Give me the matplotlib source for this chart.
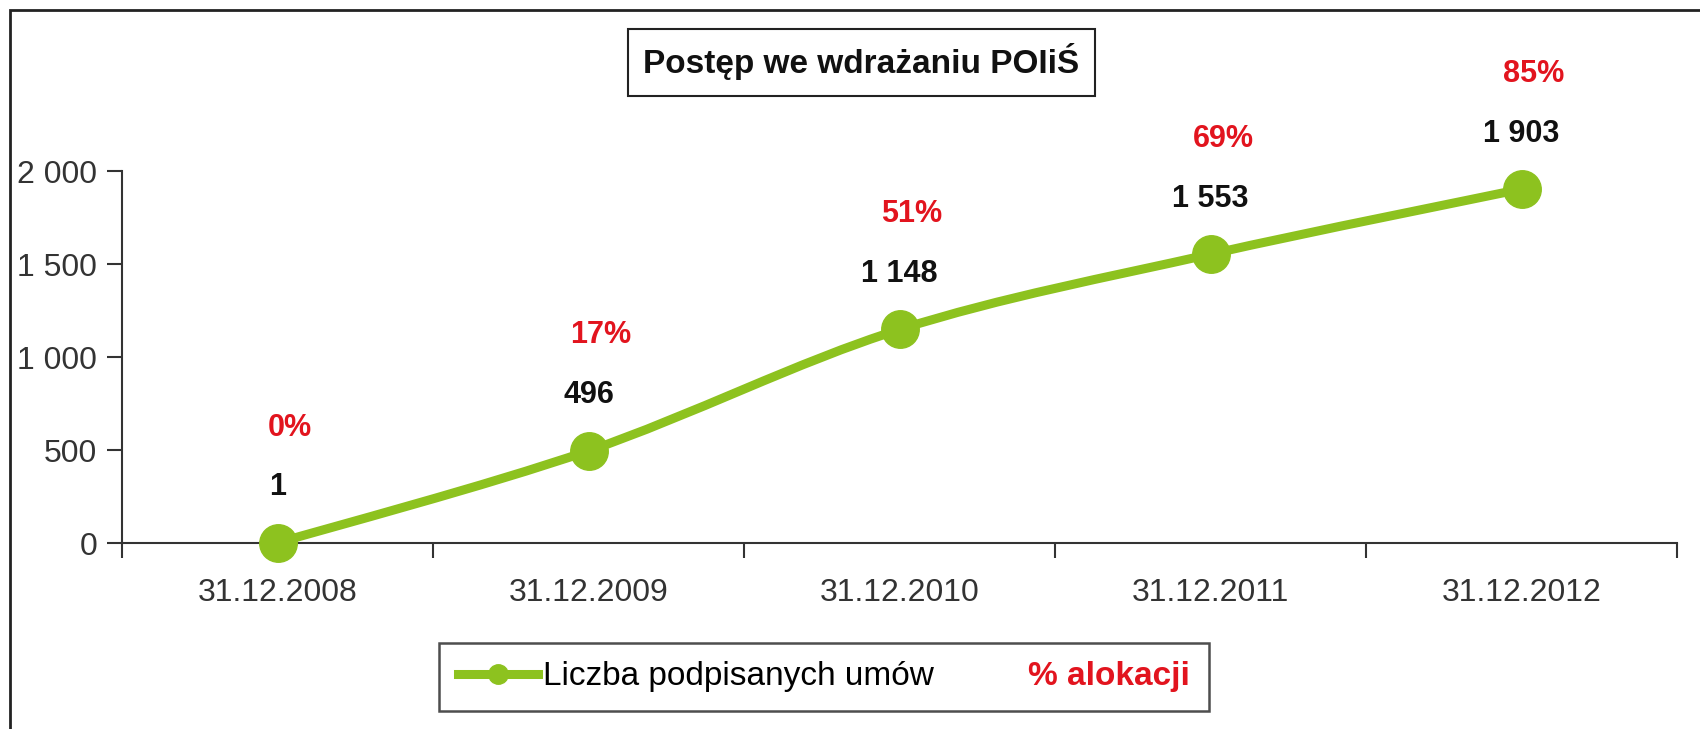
import matplotlib
matplotlib.use("Agg")
import matplotlib.pyplot as plt
from matplotlib.lines import Line2D
from matplotlib.patches import Rectangle, PathPatch
from matplotlib.path import Path

plt.rcParams["font.family"] = ["Liberation Sans", "DejaVu Sans"]

# dane
daty = ["31.12.2008", "31.12.2009", "31.12.2010", "31.12.2011", "31.12.2012"]
umowy = [1, 496, 1148, 1553, 1903]
alokacja = [0, 17, 51, 69, 85]
y_ticks = [0, 500, 1000, 1500, 2000]

ZIELONY = "#8DC21F"
CZERWONY = "#E2141E"
SZARY = "#333333"


def fmt_pl(v):
    return f"{v:,}".replace(",", " ")


fig = plt.figure(figsize=(17, 7.29), dpi=100)
ax = fig.add_axes([0.0718, 0.2551, 0.9147, 0.5103])

x = list(range(len(umowy)))

# wygładzona linia (jak w Excelu) - krzywe Beziera przez punkty danych
pts = list(zip(x, umowy))
verts = [pts[0]]
codes = [Path.MOVETO]
for i in range(len(pts) - 1):
    p0 = pts[i - 1] if i > 0 else pts[i]
    p1, p2 = pts[i], pts[i + 1]
    p3 = pts[i + 2] if i + 2 < len(pts) else pts[i + 1]
    c1 = (p1[0] + (p2[0] - p0[0]) / 6, p1[1] + (p2[1] - p0[1]) / 6)
    c2 = (p2[0] - (p3[0] - p1[0]) / 6, p2[1] - (p3[1] - p1[1]) / 6)
    verts += [c1, c2, p2]
    codes += [Path.CURVE4] * 3
ax.add_patch(PathPatch(Path(verts, codes), fill=False, ec=ZIELONY, lw=6.5,
                       capstyle="round", clip_on=False, zorder=3))
ax.plot(x, umowy, ls="none", marker="o", ms=27, color=ZIELONY,
        clip_on=False, zorder=4)

# etykiety danych
for xi, v, p in zip(x, umowy, alokacja):
    ax.annotate(fmt_pl(v), (xi, v), xytext=(0, 40), textcoords="offset points",
                ha="center", va="center", fontsize=22, fontweight="bold",
                color="#111111")
    ax.annotate(f"{p}%", (xi, v), xytext=(9, 83), textcoords="offset points",
                ha="center", va="center", fontsize=22, fontweight="bold",
                color=CZERWONY)

ax.set_xlim(-0.5, len(umowy) - 0.5)
ax.set_ylim(0, 2000)
ax.set_xticks([i - 0.5 for i in range(len(umowy) + 1)])
ax.set_xticklabels([])
ax.set_xticks(x, minor=True)
ax.set_xticklabels(daty, minor=True)
ax.tick_params(axis="x", which="major", direction="out", length=11, width=1.5,
               color=SZARY)
ax.tick_params(axis="x", which="minor", length=0, pad=25, labelsize=23,
               labelcolor=SZARY)
ax.set_yticks(y_ticks)
ax.set_yticklabels([fmt_pl(v) for v in y_ticks])
ax.tick_params(axis="y", direction="out", length=11, width=1.5, color=SZARY,
               pad=7, labelsize=23, labelcolor=SZARY)

for s in ["top", "right"]:
    ax.spines[s].set_visible(False)
for s in ["left", "bottom"]:
    ax.spines[s].set_linewidth(1.5)
    ax.spines[s].set_color(SZARY)

# tytuł w ramce
fig.text(0.5068, 1 - 62 / 729, "Postęp we wdrażaniu POIiŚ", ha="center",
         va="center", fontsize=24, fontweight="bold", color="#111111",
         bbox=dict(boxstyle="square,pad=0.45", fc="white", ec="#222222", lw=1.5))

# legenda
h_line = Line2D([], [], color=ZIELONY, lw=6.5, marker="o", ms=14)
h_pusty = Line2D([], [], color="none")
leg = fig.legend([h_line, h_pusty], ["Liczba podpisanych umów", "% alokacji"],
                 loc="center", bbox_to_anchor=(0.4847, 1 - 677 / 729), ncol=2,
                 fontsize=24, handlelength=2.4, handletextpad=0.15,
                 columnspacing=0.3, borderpad=0.55, fancybox=False,
                 edgecolor="#222222")
leg.get_frame().set_linewidth(1.8)
leg.get_texts()[1].set_color(CZERWONY)
leg.get_texts()[1].set_fontweight("bold")

# ramka zewnętrzna
fig.patches.append(Rectangle((10 / 1700, -0.05), 1.2, 1 - 10 / 729 + 0.05,
                             transform=fig.transFigure, fill=False,
                             ec="#222222", lw=2))

fig.savefig("out.png", dpi=100, facecolor="white")
